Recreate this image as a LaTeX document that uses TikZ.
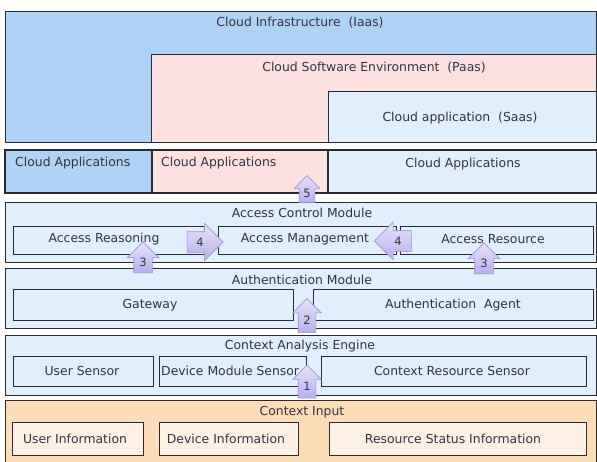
\documentclass[tikz,border=0pt]{standalone}
\usepackage{fontspec}
\setmainfont{DejaVu Sans}
\usetikzlibrary{shapes.arrows}
\definecolor{iaasblue}{HTML}{AED3F7}
\definecolor{paaspink}{HTML}{FDE1E1}
\definecolor{saasblue}{HTML}{E1EEFB}
\definecolor{ctxorange}{HTML}{FDDCB8}
\definecolor{ctxlight}{HTML}{FDF1E6}
\definecolor{txtgrey}{HTML}{33343F}
\definecolor{arrowtop}{HTML}{E6E2FB}
\definecolor{arrowbot}{HTML}{B8B0EC}
\definecolor{arrowline}{HTML}{9A93D6}
\definecolor{boxline}{HTML}{2A2A30}
\tikzset{
  box/.style={draw=boxline, line width=0.9pt, anchor=north west, inner sep=0pt, outer sep=0pt},
  inbox/.style={draw=boxline, line width=0.8pt, anchor=north west, inner sep=0pt, outer sep=0pt},
  ttl/.style={font=\fontsize{12.4}{14}\selectfont, text=txtgrey, inner sep=0pt},
  blockarrow/.style={single arrow, draw=arrowline, line width=0.6pt,
    top color=arrowtop, bottom color=arrowbot,
    single arrow head indent=0pt, text width=8pt, text height=8pt, text depth=0pt, align=center,
    font=\fontsize{11.5}{13}\selectfont, text=txtgrey}
}
\begin{document}
\begin{tikzpicture}[x=1pt,y=-1pt]
\useasboundingbox (0,0) rectangle (597,461);
% Cloud layers
\node[box, fill=iaasblue, minimum width=591.5pt, minimum height=131pt] (iaas) at (5,11) {};
\node[box, fill=paaspink, minimum width=445.5pt, minimum height=88pt] (paas) at (151,54) {};
\node[box, fill=saasblue, minimum width=268.5pt, minimum height=51pt] (saas) at (328,91) {};
\node[ttl] (iaast) at (300,23) {Cloud Infrastructure~~(Iaas)};
\node[ttl] (paast) at (374,68) {Cloud Software Environment~~(Paas)};
\node[ttl] (saast) at (460,118) {Cloud application~~(Saas)};
% Cloud applications row
\node[box, line width=1.4pt, fill=iaasblue, minimum width=147pt, minimum height=43pt] (ca1) at (5,150) {};
\node[box, line width=1.4pt, fill=paaspink, minimum width=176pt, minimum height=43pt] (ca2) at (152,150) {};
\node[box, line width=1.4pt, fill=saasblue, minimum width=268.5pt, minimum height=43pt] (ca3) at (328,150) {};
\node[ttl, anchor=west] (ca1t) at (15,163) {Cloud Applications};
\node[ttl, anchor=west] (ca2t) at (161,163) {Cloud Applications};
\node[ttl] (ca3t) at (463,164) {Cloud Applications};
% Access Control Module
\node[box, fill=saasblue, minimum width=591.5pt, minimum height=60pt] (acm) at (5,202) {};
\node[ttl] (acmt) at (302,213) {Access Control Module};
\node[inbox, fill=saasblue, minimum width=191pt, minimum height=28pt] (ar) at (13,226) {};
\node[inbox, fill=saasblue, minimum width=178pt, minimum height=28pt] (am) at (218,226) {};
\node[inbox, fill=saasblue, minimum width=193pt, minimum height=28pt] (ares) at (400,226) {};
\node[ttl] (art) at (104,239) {Access Reasoning};
\node[ttl] (amt) at (305,239) {Access Management};
\node[ttl] (arest) at (493,239) {Access Resource};
% Authentication Module
\node[box, fill=saasblue, minimum width=591.5pt, minimum height=60pt] (aum) at (5,268) {};
\node[ttl] (aumt) at (302,280) {Authentication Module};
\node[inbox, fill=saasblue, minimum width=280pt, minimum height=31pt] (gw) at (13,289) {};
\node[inbox, fill=saasblue, minimum width=280pt, minimum height=31pt] (aa) at (313,289) {};
\node[ttl] (gwt) at (150,305) {Gateway};
\node[ttl] (aat) at (453,305) {Authentication~~Agent};
% Context Analysis Engine
\node[box, fill=saasblue, minimum width=591.5pt, minimum height=60pt] (cae) at (5,335) {};
\node[ttl] (caet) at (300,346) {Context Analysis Engine};
\node[inbox, fill=saasblue, minimum width=140pt, minimum height=30pt] (us) at (13,356) {};
\node[inbox, fill=saasblue, minimum width=147pt, minimum height=30pt] (dms) at (159,356) {};
\node[inbox, fill=saasblue, minimum width=265pt, minimum height=30pt] (crs) at (321,356) {};
\node[ttl] (ust) at (82,371) {User Sensor};
\node[ttl, anchor=west] (dmst) at (161,371) {Device Module Sensor};
\node[ttl] (crst) at (452,371) {Context Resource Sensor};
% Context Input
\node[box, fill=ctxorange, minimum width=591.5pt, minimum height=62pt] (ci) at (5,400) {};
\node[ttl] (cit) at (302,412) {Context Input};
\node[inbox, fill=ctxlight, minimum width=131pt, minimum height=33pt] (ui) at (12,422) {};
\node[inbox, fill=ctxlight, minimum width=139pt, minimum height=33pt] (di) at (159,422) {};
\node[inbox, fill=ctxlight, minimum width=257pt, minimum height=33pt] (rsi) at (329,422) {};
\node[ttl] (uit) at (75,439) {User Information};
\node[ttl] (dit) at (226,439) {Device Information};
\node[ttl] (rsit) at (453,439) {Resource Status Information};
% Block arrows
\node[blockarrow, shape border rotate=90, inner sep=3.5pt, single arrow head extend=5pt, minimum height=27pt] (a5) at (307,193) {5};
\node[blockarrow, shape border rotate=0, inner sep=6pt, single arrow head extend=8.5pt, minimum height=36pt] (a4r) at (200,242) {4};
\node[blockarrow, shape border rotate=180, inner sep=6pt, single arrow head extend=8.5pt, minimum height=37pt] (a4l) at (398,241) {4};
\node[blockarrow, shape border rotate=90, inner sep=5pt, single arrow head extend=6.5pt, minimum height=31pt] (a3l) at (143,262) {3};
\node[blockarrow, shape border rotate=90, inner sep=5pt, single arrow head extend=6.5pt, minimum height=31pt] (a3r) at (484,263) {3};
\node[blockarrow, shape border rotate=90, inner sep=4.5pt, single arrow head extend=5.5pt, minimum height=34pt] (a2) at (307,320) {2};
\node[blockarrow, shape border rotate=90, inner sep=4.5pt, single arrow head extend=5.5pt, minimum height=33pt] (a1) at (307,386) {1};
\end{tikzpicture}
\end{document}
